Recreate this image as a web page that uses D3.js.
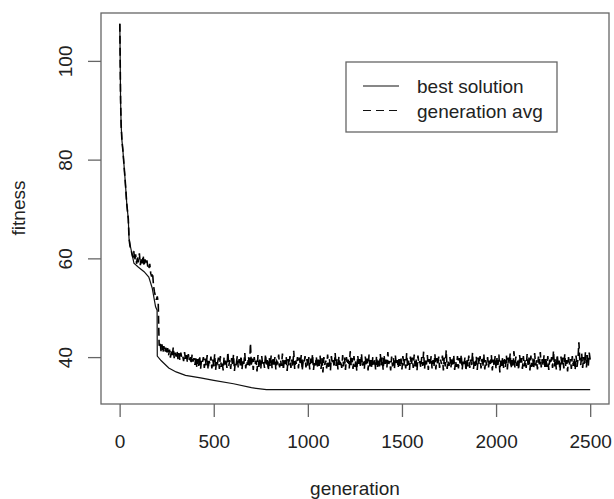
<!DOCTYPE html>
<meta charset="utf-8">
<title>fitness by generation</title>
<script src="https://d3js.org/d3.v7.min.js"></script>
<style>
  body { margin: 0; background: #fff; }
  svg text { font-family: "Liberation Sans", Arial, sans-serif; fill: #222; }
</style>
<body>
<svg width="614" height="499"></svg>
<script>

  // ticks
  const xTicks = [0, 500, 1000, 1500, 2000, 2500],
        yTicks = [40, 60, 80, 100]

  // start of the run, both curves overlap here
  const earlyGen = [1, 3, 5, 8, 12, 17, 23, 30, 38, 46],
        earlyFit = [107.5, 100, 92, 87, 84, 82, 79, 75.5, 71, 68]

  // best solution, breakpoints after the overlap
  const bestGen = [50, 58, 76, 100, 130, 155, 173, 191, 199, 200, 220, 261, 300, 350, 430, 500, 605, 700, 780, 2500],
        bestFit = [64, 62.3, 59, 58.2, 57.3, 56.2, 54, 50.2, 49.5, 40.2, 39.3, 37.8, 37, 36.3, 35.8, 35.3, 34.6, 33.8, 33.4, 33.4]

  // generation average, one reading every 5 generations from gen 50
  const avgFrom = 50, avgStep = 5
  const avgFit = [
    64.0, 62.5, 61.8, 61.0, 60.2, 61.5, 59.5, 60.8, 58.9, 60.5,
    59.2, 61.0, 58.6, 60.1, 59.0, 60.6, 58.4, 59.8, 58.8, 59.6,
    58.2, 57.8, 58.9, 57.0, 56.3, 57.1, 54.5, 53.2, 52.4, 51.6,
    52.3, 51.0, 42.3, 43.1, 41.2, 42.6, 40.9, 42.2, 41.0, 41.9,
    40.6, 41.8, 40.3, 41.5, 39.9, 41.2, 40.4, 42.0, 39.8, 40.9,
    40.1, 41.3, 39.6, 40.8, 39.4, 40.9, 39.9, 40.3, 39.2, 41.0,
    39.5, 40.4, 38.9, 40.6, 39.3, 40.0, 38.6, 40.5, 39.1, 39.8,
    38.4, 40.1, 37.9, 39.6, 38.2, 40.3, 37.6, 39.4, 38.9, 40.0,
    37.8, 39.7, 38.3, 40.4, 37.5, 39.2, 38.6, 40.1, 37.7, 39.5,
    38.1, 40.6, 37.4, 39.3, 38.8, 39.9, 37.6, 40.2, 38.0, 39.1,
    37.3, 40.0, 38.5, 39.6, 37.8, 41.0, 38.2, 39.4, 37.6, 39.8,
    38.3, 40.5, 37.2, 39.1, 38.7, 40.2, 37.9, 39.6, 38.1, 40.3,
    37.5, 39.4, 38.6, 40.8, 37.7, 39.2, 38.4, 40.1, 37.9, 42.8,
    38.2, 39.7, 37.4, 40.0, 38.6, 39.3, 37.1, 40.4, 38.0, 39.5,
    37.6, 40.2, 38.3, 39.0, 37.8, 40.6, 38.5, 39.4, 37.3, 39.9,
    38.1, 40.3, 37.7, 39.6, 38.4, 40.0, 37.5, 39.2, 38.8, 40.5,
    37.9, 39.4, 38.2, 40.7, 37.4, 39.8, 38.6, 40.1, 37.2, 39.6,
    38.3, 40.2, 37.8, 39.5, 38.0, 41.3, 37.6, 39.3, 38.5, 40.0,
    37.7, 39.9, 38.4, 40.4, 37.3, 39.1, 38.7, 40.2, 37.9, 39.6,
    38.1, 40.0, 37.5, 39.7, 38.6, 40.6, 37.4, 39.2, 38.3, 40.1,
    37.8, 39.5, 38.2, 40.3, 37.6, 39.8, 36.9, 40.0, 38.4, 39.3,
    37.7, 40.5, 38.0, 39.6, 37.3, 40.2, 38.6, 39.4, 37.9, 40.8,
    38.2, 39.7, 37.5, 40.1, 38.4, 39.3, 37.8, 40.4, 38.1, 39.9,
    37.4, 40.0, 38.5, 39.5, 37.7, 41.2, 38.3, 39.8, 37.6, 40.2,
    38.0, 39.4, 37.2, 40.3, 38.6, 39.6, 37.9, 40.7, 38.2, 39.1,
    37.6, 40.1, 38.4, 39.7, 37.3, 40.5, 38.1, 39.4, 37.8, 40.0,
    38.5, 39.6, 37.5, 40.2, 38.0, 39.3, 37.7, 40.6, 38.3, 39.9,
    37.4, 40.4, 38.2, 39.5, 37.9, 41.0, 38.6, 39.2, 37.3, 40.1,
    38.1, 39.8, 37.6, 40.3, 38.4, 39.4, 37.8, 40.0, 38.2, 39.7,
    37.5, 40.2, 38.3, 39.6, 37.7, 40.8, 38.0, 39.3, 37.4, 40.1,
    38.4, 39.9, 37.8, 40.5, 38.1, 39.5, 37.3, 40.3, 38.6, 39.2,
    37.9, 40.0, 38.2, 41.1, 37.6, 39.7, 38.5, 40.4, 37.4, 39.6,
    38.3, 40.2, 37.7, 39.4, 38.0, 40.6, 37.5, 39.8, 38.4, 40.1,
    37.8, 39.5, 38.6, 40.3, 37.3, 39.9, 38.1, 41.4, 37.6, 39.3,
    38.2, 40.0, 37.9, 39.6, 38.5, 40.4, 37.4, 39.2, 38.0, 40.2,
    37.7, 39.8, 38.3, 40.5, 37.5, 39.4, 38.6, 40.0, 37.2, 39.7,
    38.1, 40.3, 37.8, 39.5, 38.4, 40.9, 37.6, 39.3, 38.2, 40.1,
    37.4, 39.9, 38.5, 40.2, 37.7, 39.6, 38.0, 40.6, 37.5, 39.4,
    38.3, 40.0, 37.9, 39.7, 38.6, 40.4, 37.3, 39.5, 38.1, 40.2,
    37.6, 39.8, 38.4, 40.5, 36.9, 39.3, 38.2, 40.0, 37.8, 39.6,
    38.0, 40.3, 37.5, 39.9, 38.5, 40.7, 37.7, 39.4, 38.3, 41.2,
    37.9, 40.1, 38.2, 39.6, 37.4, 40.4, 38.6, 39.8, 37.6, 40.2,
    38.1, 39.5, 37.8, 40.6, 38.4, 39.9, 37.3, 40.3, 38.0, 39.7,
    37.7, 40.8, 38.3, 39.4, 37.5, 40.1, 38.5, 41.0, 37.9, 39.6,
    38.2, 40.4, 37.6, 39.8, 38.0, 40.2, 37.4, 39.5, 38.6, 40.0,
    37.8, 41.3, 38.1, 39.7, 37.5, 40.5, 38.4, 39.3, 37.2, 40.1,
    38.3, 39.9, 37.7, 40.6, 38.0, 39.4, 37.1, 40.0, 38.5, 39.6,
    37.6, 40.2, 38.2, 39.8, 37.4, 40.3, 38.0, 39.5, 43.0, 39.2,
    38.4, 40.7, 37.8, 40.0, 38.6, 41.1, 37.9, 40.4, 38.2, 40.9,
    39.5
  ]

  const legendLabels = ['best solution', 'generation avg']

  const svg = d3.select('svg')

  const x = d3.scaleLinear().domain([-99, 2600]).range([101, 609]),
        y = d3.scaleLinear().domain([30.5, 109.7]).range([404, 13])

  const toPts = (gs, vs) => gs.map((g, i) => [g, vs[i]])

  const early = toPts(earlyGen, earlyFit)
  const best = early.concat(toPts(bestGen, bestFit))
  const avg = early.concat(avgFit.map((v, i) => [avgFrom + i * avgStep, v]))

  const line = d3.line().x(d => x(d[0])).y(d => y(d[1]))

  svg.append('clipPath').attr('id', 'plotclip')
    .append('rect').attr('x', 101).attr('y', 13).attr('width', 508).attr('height', 391)

  const plot = svg.append('g').attr('clip-path', 'url(#plotclip)')

  plot.append('path')
    .attr('d', line(best))
    .attr('fill', 'none')
    .attr('stroke', '#111')
    .attr('stroke-width', 1.2)

  // dense noisy band: a bit heavier so it reads as in the original
  plot.append('path')
    .attr('d', line(avg))
    .attr('fill', 'none')
    .attr('stroke', '#000')
    .attr('stroke-width', 1.6)
    .attr('stroke-dasharray', '8,4')

  // box
  svg.append('rect')
    .attr('x', 101).attr('y', 13).attr('width', 508).attr('height', 391)
    .attr('fill', 'none').attr('stroke', '#666').attr('stroke-width', 1.3)

  // axes
  const xAxis = svg.append('g')
    .attr('transform', 'translate(0,404)')
    .call(d3.axisBottom(x).tickValues(xTicks).tickFormat(d3.format('d')).tickSize(13).tickPadding(18))
  xAxis.select('.domain').remove()
  xAxis.selectAll('line').attr('stroke', '#666').attr('stroke-width', 1.3)
  xAxis.selectAll('text')
    .attr('font-size', 19).attr('fill', '#222')
    .attr('font-family', '"Liberation Sans", Arial, sans-serif')

  const yAxis = svg.append('g')
    .attr('transform', 'translate(101,0)')
    .call(d3.axisLeft(y).tickValues(yTicks).tickSize(13))
  yAxis.select('.domain').remove()
  yAxis.selectAll('line').attr('stroke', '#666').attr('stroke-width', 1.3)
  yAxis.selectAll('text').remove()
  yAxis.selectAll('.tick').append('text')
    .attr('transform', 'translate(-29,0) rotate(-90)')
    .attr('text-anchor', 'middle')
    .attr('font-size', 19)
    .attr('fill', '#222')
    .text(d => d)

  // axis titles
  svg.append('text')
    .attr('x', 355).attr('y', 495)
    .attr('text-anchor', 'middle').attr('font-size', 19)
    .text('generation')

  svg.append('text')
    .attr('transform', 'translate(25,208) rotate(-90)')
    .attr('text-anchor', 'middle').attr('font-size', 19)
    .text('fitness')

  // legend
  const legend = svg.append('g')
  legend.append('rect')
    .attr('x', 346).attr('y', 62).attr('width', 211).attr('height', 70)
    .attr('fill', '#fff').attr('stroke', '#666').attr('stroke-width', 1.3)

  legendLabels.forEach((lab, i) => {
    const ly = 86 + i * 24.5
    legend.append('line')
      .attr('x1', 363).attr('x2', 399).attr('y1', ly).attr('y2', ly)
      .attr('stroke', '#111').attr('stroke-width', 1.2)
      .attr('stroke-dasharray', i ? '8,5' : null)
    legend.append('text')
      .attr('x', 417).attr('y', ly + 7)
      .attr('font-size', 19)
      .text(lab)
  })

</script>
</body>
